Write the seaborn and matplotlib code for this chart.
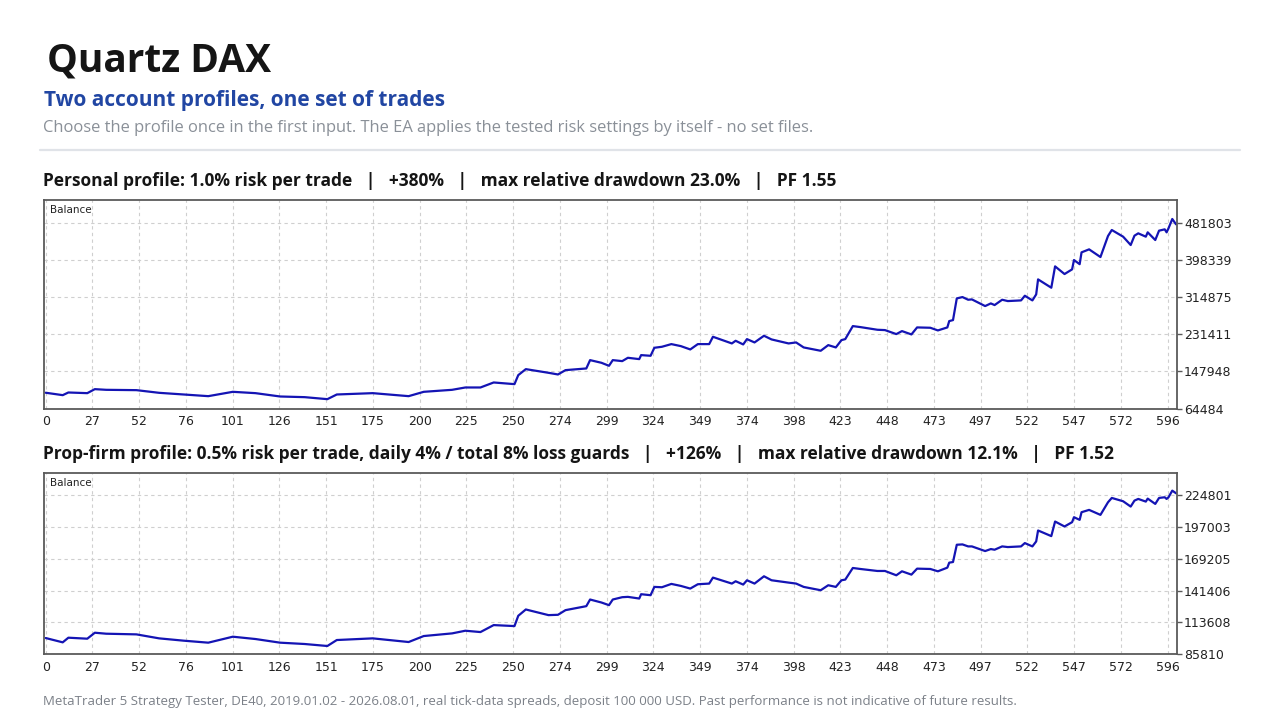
import numpy as np
import pandas as pd
import matplotlib
matplotlib.use("Agg")
import matplotlib.pyplot as plt
from matplotlib.lines import Line2D
import seaborn as sns

# ---------------- data ----------------
trades = [0, 9, 12, 22, 26, 32, 48, 60, 73, 86, 99, 111, 124, 137, 149, 154, 173, 192, 200, 215,
          222, 230, 237, 248, 250, 254, 266, 271, 275, 286, 288, 294, 298, 300, 305, 308, 314, 315,
          320, 322, 326, 331, 336, 341, 345, 351, 353, 363, 365, 369, 371, 375, 380, 384, 393, 397,
          401, 410, 414, 418, 421, 423, 427, 431, 440, 444, 450, 453, 458, 461, 468, 472, 477, 478,
          480, 482, 485, 488, 490, 497, 500, 502, 506, 509, 516, 518, 522, 524, 525, 532, 534, 539,
          543, 544, 547, 548, 552, 558, 562, 564, 570, 574, 576, 578, 582, 583, 587, 589, 592, 593,
          594, 596, 598]

personal_balance = [100000, 94560, 100570, 99070, 108090, 106590, 105840, 99820, 96060, 92300,
                    102080, 99070, 91550, 90050, 85540, 96060, 99070, 92300, 102080, 106590,
                    111850, 111850, 123130, 119370, 139670, 153210, 144940, 141180, 150950, 154710,
                    173510, 167500, 160730, 173510, 171250, 178770, 175760, 184790, 183280, 201330,
                    203590, 209600, 205090, 197570, 209600, 209600, 226150, 211110, 217120, 208850,
                    220880, 213360, 228400, 220130, 211110, 213360, 202080, 194560, 207340, 202080,
                    218620, 220880, 250200, 247950, 241930, 241180, 232160, 238930, 231410, 247200,
                    246450, 240430, 247200, 261480, 263740, 312610, 315620, 309600, 310350, 295320,
                    301330, 297570, 309600, 306590, 308090, 318620, 308090, 321630, 355470, 336680,
                    384800, 367500, 378030, 399080, 389710, 416380, 423150, 405850, 453220, 466750,
                    451710, 432910, 453970, 459230, 451710, 461490, 444190, 465240, 468250, 461490,
                    470510, 491560, 479530]

prop_balance = [100000, 96240, 100290, 99420, 104630, 103770, 103190, 99710, 97690, 95950,
                101160, 99130, 95950, 94790, 93050, 98260, 99710, 96520, 101740, 104050,
                106370, 105210, 111290, 110430, 119400, 124910, 119980, 120270, 124330, 127800,
                133600, 130990, 128670, 133600, 135620, 135910, 134460, 138230, 137360, 144600,
                144310, 147210, 145470, 143150, 146920, 147500, 152710, 147500, 149520, 146630,
                150390, 147500, 153870, 150390, 148360, 147500, 144600, 141700, 146050, 144600,
                150390, 150970, 161110, 160240, 158500, 158500, 154740, 158210, 155310, 160530,
                160240, 158210, 161400, 165740, 166320, 181380, 181670, 179930, 179930, 175870,
                177610, 177030, 179930, 179350, 179930, 182830, 179930, 184270, 193830, 188900,
                201640, 197300, 201060, 205410, 203090, 209760, 211780, 207440, 218440, 222210,
                219310, 214680, 219890, 221340, 219020, 221630, 216990, 222210, 222790, 221340,
                222790, 228580, 226270]

x_tick_labels = ["0", "27", "52", "76", "101", "126", "151", "175", "200", "225", "250", "274",
                 "299", "324", "349", "374", "398", "423", "448", "473", "497", "522", "547",
                 "572", "596"]
personal_yticks = [64484, 147948, 231411, 314875, 398339, 481803]
prop_yticks = [85810, 113608, 141406, 169205, 197003, 224801]

title = "Quartz DAX"
subtitle = "Two account profiles, one set of trades"
description = ("Choose the profile once in the first input. The EA applies the tested risk "
               "settings by itself - no set files.")
panel1_title = ("Personal profile: 1.0% risk per trade   |   +380%   |   "
                "max relative drawdown 23.0%   |   PF 1.55")
panel2_title = ("Prop-firm profile: 0.5% risk per trade, daily 4% / total 8% loss guards   |   "
                "+126%   |   max relative drawdown 12.1%   |   PF 1.52")
footer = ("MetaTrader 5 Strategy Tester, DE40, 2019.01.02 - 2026.08.01, real tick-data spreads, "
          "deposit 100 000 USD. Past performance is not indicative of future results.")

# ---------------- style ----------------
sns.set_theme(style="white")
plt.rcParams["font.family"] = ["Open Sans", "DejaVu Sans"]

LINE = "#1414b4"
FRAME = "#5a5a5a"
GRID = "#cfcfcf"

fig = plt.figure(figsize=(12.8, 7.2), dpi=100)
fig.patch.set_facecolor("white")

W, H = 1280.0, 720.0


def make_axes(left, top, right, bottom):
    return fig.add_axes([left / W, 1 - bottom / H, (right - left) / W, (bottom - top) / H])


ax1 = make_axes(44, 199.5, 1177, 408.5)
ax2 = make_axes(44, 473.3, 1177, 654.3)

tick_pos = [i * 24.73 for i in range(len(x_tick_labels))]

panels = [
    (ax1, personal_balance, personal_yticks, 535500),
    (ax2, prop_balance, prop_yticks, 243700),
]

for ax, bal, yt, ymax in panels:
    df = pd.DataFrame({"trade": trades, "balance": bal})
    sns.lineplot(data=df, x="trade", y="balance", ax=ax, color=LINE, linewidth=1.6,
                 estimator=None, sort=False)
    ax.set_xlim(-0.9, 598.5)
    ax.set_ylim(yt[0], ymax)
    ax.set_xticks(tick_pos)
    ax.set_xticklabels(x_tick_labels)
    ax.set_yticks(yt)
    ax.set_yticklabels([str(v) for v in yt])
    ax.yaxis.tick_right()
    ax.yaxis.set_label_position("right")
    ax.set_xlabel("")
    ax.set_ylabel("")
    ax.tick_params(axis="both", which="both", direction="out", colors=FRAME,
                   labelcolor="#222222", labelsize=9, length=3.5, width=1.0, pad=1.5)
    for lab in ax.get_xticklabels() + ax.get_yticklabels():
        lab.set_family("DejaVu Sans")
    ax.grid(True, linestyle=(0, (3, 3)), color=GRID, linewidth=0.8)
    for s in ax.spines.values():
        s.set_visible(True)
        s.set_color(FRAME)
        s.set_linewidth(1.3)
    ax.set_facecolor("white")
    ax.text(0.0055, 0.975, "Balance", transform=ax.transAxes, ha="left", va="top",
            fontsize=7.5, color="#222222", family="DejaVu Sans")

# ---------------- texts ----------------
fig.text(47 / W, 1 - 72 / H, title, fontsize=28, fontweight="bold", color="#151515",
         ha="left", va="baseline")
fig.text(44 / W, 1 - 106 / H, subtitle, fontsize=15, fontweight="bold", color="#2146a3",
         ha="left", va="baseline")
fig.text(43 / W, 1 - 132 / H, description, fontsize=11.9, color="#8a9098",
         ha="left", va="baseline")
fig.add_artist(Line2D([40 / W, 1240 / W], [1 - 150 / H, 1 - 150 / H], color="#e0e3e8",
                      linewidth=1.6))
fig.text(43 / W, 1 - 186 / H, panel1_title, fontsize=12.5, fontweight="bold", color="#151515",
         ha="left", va="baseline")
fig.text(43 / W, 1 - 459 / H, panel2_title, fontsize=12.5, fontweight="bold", color="#151515",
         ha="left", va="baseline")
fig.text(43 / W, 1 - 705 / H, footer, fontsize=9.55, color="#7b8088",
         ha="left", va="baseline")

fig.savefig("out.png", dpi=100, facecolor="white")
